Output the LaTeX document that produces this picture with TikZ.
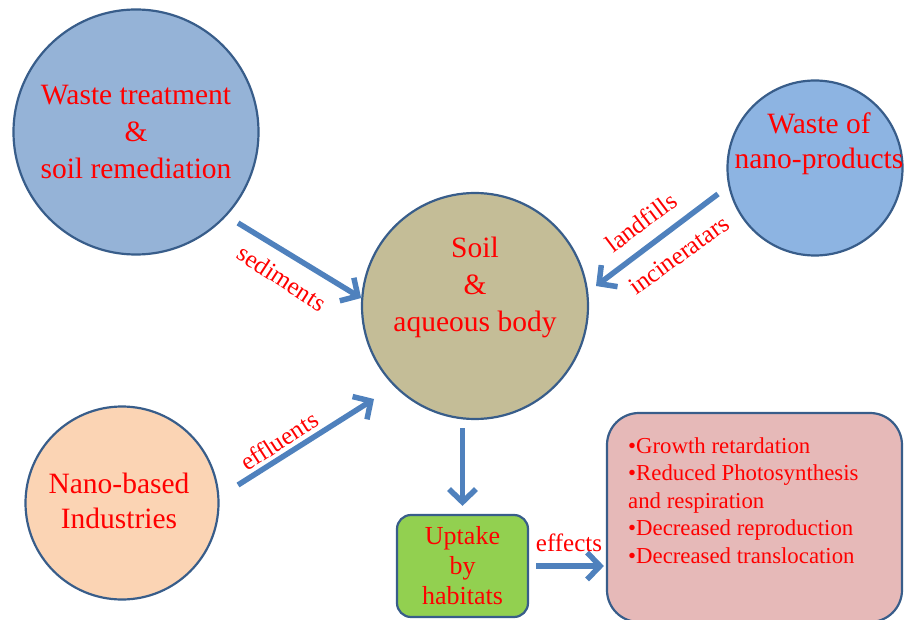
\documentclass[tikz,border=0pt]{standalone}
\usepackage{fontspec}
\setmainfont{Liberation Serif}
\newfontfamily\tnr{Liberation Serif}
\usetikzlibrary{arrows.meta,calc}
\definecolor{arrowblue}{HTML}{4F81BD}
\definecolor{borderblue}{HTML}{385D8A}
\definecolor{fillA}{HTML}{95B3D7}
\definecolor{fillB}{HTML}{8DB4E2}
\definecolor{fillSoil}{HTML}{C4BD97}
\definecolor{fillNano}{HTML}{FBD4B4}
\definecolor{fillGreen}{HTML}{92D050}
\definecolor{fillPink}{HTML}{E6B9B8}
\definecolor{txtred}{HTML}{FF0000}
\begin{document}
\begin{tikzpicture}[x=1pt,y=-1pt,
  bubble/.style={circle, draw=borderblue, line width=2.2pt, inner sep=0pt},
  panel/.style={rectangle, draw=borderblue, line width=2.2pt, inner sep=0pt},
  flow/.style={draw=arrowblue, line width=5.5pt, -{Straight Barb[length=13pt,width=27pt]}},
  lbl/.style={text=txtred, font=\tnr\fontsize{25}{30}\selectfont, inner sep=0pt},
  big/.style={text=txtred, align=center, font=\tnr\fontsize{29.5}{37}\selectfont, inner sep=0pt},
  bigb/.style={text=txtred, align=center, font=\tnr\fontsize{29.5}{35}\selectfont, inner sep=0pt}]
\useasboundingbox (0,0) rectangle (908,620);

% circles
\node[bubble, fill=fillA, minimum size=245pt, big] (waste) at (136,132) {Waste treatment\\\&\\soil remediation};
\node[bubble, fill=fillB, minimum size=175pt] (nanoprod) at (815,168) {};
\node[bigb] (nanoprodtext) at (819,144) {Waste of\\nano-products};
\node[bubble, fill=fillSoil, minimum size=226pt] (soil) at (475,306) {};
\node[big] (soiltext) at (475,287) {Soil\\\&\\aqueous body};
\node[bubble, fill=fillNano, minimum size=193pt] (industry) at (122,503) {};
\node[bigb] (industrytext) at (119,501) {Nano-based\\Industries};

% boxes
\node[panel, rounded corners=14pt, fill=fillGreen, minimum width=131pt, minimum height=102pt,
  text=txtred, align=center, font=\tnr\fontsize{26}{30}\selectfont] (uptake) at (462.5,566) {Uptake\\by\\habitats};
\node[panel, rounded corners=32pt, fill=fillPink, minimum width=295pt, minimum height=209pt] (effectsbox) at (754.5,517.5) {};
\node[text=txtred, align=left, anchor=north west, inner sep=0pt, font=\tnr\fontsize{22.8}{27.5}\selectfont] (effectslist) at (628,437)
  {•Growth retardation\\•Reduced Photosynthesis\\and respiration\\•Decreased reproduction\\•Decreased translocation};

% arrow ends
\coordinate (s1) at (238,223);
\coordinate (s2) at (718,194);
\coordinate (t2) at (596,286);
\coordinate (s3) at (238,485);
\coordinate (t3) at (374,399);

% arrows
\draw[flow] (s1) -- (soil.176);
\draw[flow] (s2) -- (t2);
\draw[flow] (s3) -- (t3);
\draw[flow] ($(soil.south -| uptake.north)+(0,8)$) -- ($(uptake.north)+(0,-8)$);
\draw[flow] ($(uptake.east)+(7,0)$) -- ($(uptake.east -| effectsbox.west)+(-2,0)$);

% arrow labels
\node[lbl, rotate=-33] (sedlabel) at (282,278) {sediments};
\node[lbl, rotate=37] (landlabel) at (641,222) {landfills};
\node[lbl, rotate=36] (incilabel) at (679,255) {incineratars};
\node[lbl, rotate=33] (efflabel) at (279,441) {effluents};
\node[lbl, anchor=base] (effectlabel) at (569,551) {effects};
\end{tikzpicture}
\end{document}
